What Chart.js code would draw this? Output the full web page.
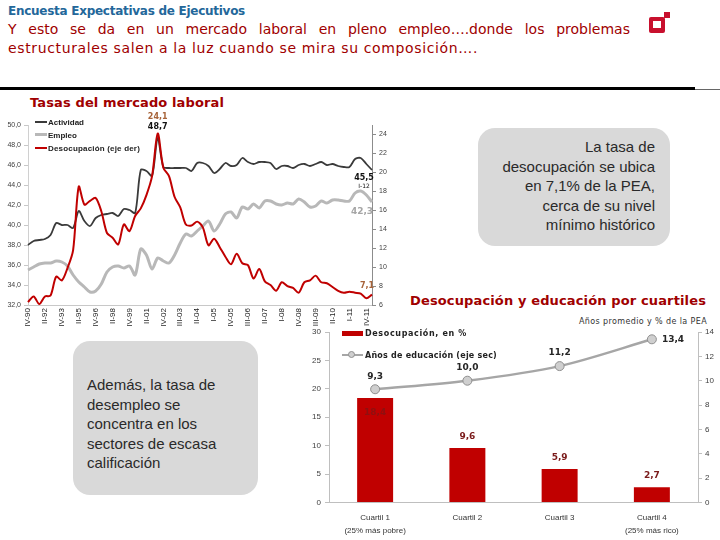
<!DOCTYPE html>
<html lang="es"><head><meta charset="utf-8">
<title>Encuesta Expectativas de Ejecutivos</title>
<script src="https://cdn.jsdelivr.net/npm/chart.js@4.4.1/dist/chart.umd.min.js"></script>
<style>
html,body{margin:0;padding:0;}
body{width:720px;height:540px;position:relative;overflow:hidden;background:#fff;font-family:"Liberation Sans",Arial,sans-serif;}
.t{position:absolute;white-space:nowrap;line-height:1;}
canvas{position:absolute;}
#h0{left:8px;top:4px;font:bold 12px "DejaVu Sans";color:#23679a;}
#h1{left:8px;top:21px;font:14px "DejaVu Sans";color:#a00000;}
#h2{left:8px;top:40px;font:14px "DejaVu Sans";color:#a00000;}
.rule{position:absolute;left:0;top:87px;width:695px;height:3px;background:#000;}
.rule2{position:absolute;left:695px;top:89px;width:25px;height:1px;background:#666;}
.sub1{left:30px;top:95px;font:bold 13px "DejaVu Sans";color:#a00000;}
.sub2{left:410px;top:293px;font:bold 13px "DejaVu Sans";color:#a00000;}
.unit{left:579px;top:317px;font:8px "DejaVu Sans";color:#333;}
.box{position:absolute;background:#d9d9d9;border-radius:17px;}
.box div{font:15px "Liberation Sans",Arial,sans-serif;color:#2a2a2a;line-height:19.5px;white-space:nowrap;}
.lg{font:bold 8px "Liberation Sans",Arial,sans-serif;color:#222;}
.lg2{font:bold 8px "DejaVu Sans";color:#222;}
.sw{position:absolute;}
</style>
</head>
<body>
<div class="t" id="h0" data-w="237">Encuesta Expectativas de Ejecutivos</div>
<div class="t" id="h1" data-w="622" data-mode="space">Y esto se da en un mercado laboral en pleno empleo….donde los problemas</div>
<div class="t" id="h2" data-w="470">estructurales salen a la luz cuando se mira su composición….</div>
<div style="position:absolute;left:649px;top:17px;width:16px;height:16px;background:#c8102e;border-radius:2px"></div>
<div style="position:absolute;left:653px;top:21px;width:8px;height:7px;background:#fff"></div>
<div style="position:absolute;left:664px;top:12px;width:6px;height:6px;background:#c8102e"></div>
<div class="rule"></div><div class="rule2"></div>

<div class="t sub1" data-w="194">Tasas del mercado laboral</div>
<canvas id="c1" width="400" height="230" style="left:0;top:110px"></canvas>

<!-- line chart legend -->
<div class="sw" style="left:35px;top:121px;width:12px;height:2px;background:#3a3a3a"></div>
<div class="t lg" style="left:48px;top:118px">Actividad</div>
<div class="sw" style="left:35px;top:133px;width:12px;height:3px;background:#b8b8b8"></div>
<div class="t lg" style="left:48px;top:131px">Empleo</div>
<div class="sw" style="left:35px;top:147px;width:12px;height:2px;background:#c00000"></div>
<div class="t lg" style="left:48px;top:144px" data-w="92">Desocupación (eje der)</div>

<div class="box" style="left:478px;top:128px;width:192px;height:118px;">
  <div style="position:absolute;right:15px;top:9px;text-align:right">La tasa de<br>desocupación se ubica<br>en 7,1% de la PEA,<br>cerca de su nivel<br>mínimo histórico</div>
</div>

<div class="t sub2" data-w="296">Desocupación y educación por cuartiles</div>
<div class="t unit" data-w="128">Años promedio y % de la PEA</div>

<div class="box" style="left:73px;top:341px;width:185px;height:154px;">
  <div style="position:absolute;left:14px;top:34px">Además, la tasa de<br>desempleo se<br>concentra en los<br>sectores de escasa<br>calificación</div>
</div>

<canvas id="c2" width="420" height="220" style="left:300px;top:320px"></canvas>

<!-- bar chart legend -->
<div class="sw" style="left:342px;top:331px;width:21px;height:5px;background:#c00000"></div>
<div class="t lg2" style="left:365px;top:329px" data-w="102">Desocupación, en %</div>
<div class="sw" style="left:342px;top:354px;width:21px;height:2px;background:#a6a6a6"></div>
<div class="sw" style="left:348px;top:351px;width:7px;height:7px;border-radius:50%;background:#cfcfcf;border:1px solid #8f8f8f;box-sizing:border-box"></div>
<div class="t lg2" style="left:365px;top:351px" data-w="132">Años de educación (eje sec)</div>

<script>
// ---------- DATA ----------
const quarters = ["IV-90","II-91","IV-91","II-92","IV-92","II-93","IV-93","II-94","IV-94","II-95","IV-95","II-96","IV-96","II-97","IV-97","II-98","IV-98","II-99","IV-99","II-00","IV-00","II-01","IV-01","II-02","IV-02","I-03","II-03","III-03","IV-03","I-04","II-04","III-04","IV-04","I-05","II-05","III-05","IV-05","I-06","II-06","III-06","IV-06","I-07","II-07","III-07","IV-07","I-08","II-08","III-08","IV-08","I-09","II-09","III-09","IV-09","I-10","II-10","III-10","IV-10","I-11","II-11","III-11","IV-11","I-12"];
const actividad = [38.0,38.4,38.5,38.6,39.0,40.2,40.0,40.0,39.7,41.4,40.4,39.9,40.7,41.0,41.1,41.2,40.9,41.6,41.5,41.2,45.5,45.4,44.9,48.7,45.8,45.7,45.7,
 45.7,45.7,45.4,46.2,46.2,45.9,45.2,45.6,46.2,45.9,46.0,46.7,46.3,46.1,46.3,46.3,46.2,45.6,45.9,45.9,45.7,46.0,46.1,45.9,46.1,46.3,46.0,46.1,45.9,45.8,45.8,46.6,46.7,46.1,45.5];
const empleo = [35.5,35.8,36.1,36.2,36.2,36.4,36.3,35.9,35.0,34.3,33.8,33.3,33.4,34.1,35.3,35.8,35.9,35.7,35.9,35.0,37.6,37.0,35.6,36.7,36.4,36.2,37.0,
 38.2,39.1,38.9,39.4,39.9,40.4,39.4,40.1,41.1,41.3,40.7,41.8,41.6,42.1,41.7,42.4,42.4,42.1,42.0,42.2,42.1,42.6,42.3,41.8,41.9,42.4,42.2,42.5,42.5,42.4,42.4,43.2,43.4,43.0,42.3];
const desocupacion = [6.3,6.9,6.1,6.9,7.0,9.0,8.6,9.9,11.8,18.5,16.6,17.0,17.3,15.9,13.6,13.1,12.4,14.5,13.8,15.4,16.2,17.6,19.6,24.1,20.5,19.6,17.4,
 16.3,14.5,14.4,14.8,14.2,12.3,13.0,12.1,11.1,10.3,11.4,10.4,10.2,8.8,9.8,8.5,8.1,7.5,8.4,8.0,7.8,7.3,8.4,8.6,9.1,8.4,8.3,7.9,7.5,7.3,7.4,7.3,7.2,6.7,7.1];

const cuartiles = [["Cuartil 1","(25% más pobre)"],"Cuartil 2","Cuartil 3",["Cuartil 4","(25% más rico)"]];
const desocupacionCuartil = [18.4, 9.6, 5.9, 2.7];
const educacionCuartil = [9.3, 10.0, 11.2, 13.4];

// ---------- text fitting ----------
document.querySelectorAll('[data-w]').forEach(el=>{
  const target = +el.dataset.w;
  const w = el.getBoundingClientRect().width;
  const txt = el.textContent;
  if (el.dataset.mode === 'space') {
    const n = (txt.match(/ /g)||[]).length;
    el.style.wordSpacing = ((target - w)/n) + 'px';
  } else {
    el.style.letterSpacing = ((target - w)/txt.length) + 'px';
  }
});

const fmt = v => v.toFixed(1).replace('.', ',');
const FAM = '"Liberation Sans", Arial, sans-serif';

// ---------- line chart ----------
const lineLabels = {
  id: 'lineLabels',
  afterDatasetsDraw(chart) {
    const ctx = chart.ctx;
    const A = chart.getDatasetMeta(0).data, E = chart.getDatasetMeta(1).data, D = chart.getDatasetMeta(2).data;
    const iPeak = desocupacion.indexOf(Math.max(...desocupacion));
    const iLast = quarters.length - 1;
    ctx.save();
    ctx.textAlign = 'center'; ctx.textBaseline = 'middle';
    ctx.font = 'bold 8px "DejaVu Sans"';
    ctx.fillStyle = '#a8643a';
    ctx.fillText(fmt(desocupacion[iPeak]), D[iPeak].x, D[iPeak].y - 17);
    ctx.fillStyle = '#111';
    ctx.fillText(fmt(actividad[iPeak]), D[iPeak].x, D[iPeak].y - 7);
    ctx.fillText(fmt(actividad[iLast]), A[iLast].x - 8, A[iLast].y + 8);
    ctx.font = '6px "DejaVu Sans"';
    ctx.fillText(quarters[iLast], A[iLast].x - 8, A[iLast].y + 16);
    ctx.font = 'bold 9px "DejaVu Sans"';
    ctx.fillStyle = '#a6a6a6';
    ctx.fillText(fmt(empleo[iLast]), E[iLast].x - 10, E[iLast].y + 10);
    ctx.font = 'bold 8px "DejaVu Sans"';
    ctx.fillStyle = '#a8643a';
    ctx.fillText(fmt(desocupacion[iLast]), D[iLast].x - 5, D[iLast].y - 9);
    ctx.restore();
  }
};

new Chart(document.getElementById('c1'), {
  type: 'line',
  data: {
    labels: quarters,
    datasets: [
      {label:'Actividad', data:actividad, yAxisID:'y', borderColor:'#3a3a3a', borderWidth:1.8, order:2},
      {label:'Empleo', data:empleo, yAxisID:'y', borderColor:'#b8b8b8', borderWidth:3, order:3},
      {label:'Desocupación (eje der)', data:desocupacion, yAxisID:'y2', borderColor:'#c00000', borderWidth:2, order:1}
    ]
  },
  options: {
    responsive:false, animation:false, devicePixelRatio:1,
    layout:{padding:{top:15,left:0,right:0,bottom:0}},
    elements:{point:{radius:0}, line:{tension:0.3}},
    plugins:{legend:{display:false}, tooltip:{enabled:false}},
    scales:{
      x:{type:'category', offset:false,
         grid:{display:false, drawTicks:false}, border:{display:true, color:'#c8c8c8'},
         ticks:{autoSkip:false, maxRotation:90, minRotation:90, padding:3, color:'#222',
                font:{size:8, family:FAM},
                callback:(v,i)=> i%3===0 ? quarters[i] : ''},
         afterFit:s=>{s.height=35;}},
      y:{position:'left', min:32, max:50,
         ticks:{stepSize:2, padding:3, color:'#404040', font:{size:7, family:FAM}, callback:v=>fmt(v)},
         grid:{drawOnChartArea:false, tickLength:4, color:'#c8c8c8'}, border:{color:'#d0d0d0'},
         afterFit:s=>{s.width=28;}},
      y2:{position:'right', min:6, max:25,
         ticks:{stepSize:2, includeBounds:false, padding:3, color:'#404040', font:{size:7, family:FAM}},
         grid:{drawOnChartArea:false, tickLength:4, color:'#8c8c8c'}, border:{color:'#8c8c8c'},
         afterFit:s=>{s.width=28;}}
    }
  },
  plugins:[lineLabels]
});

// ---------- bar chart ----------
const barLabels = {
  id:'barLabels',
  afterDatasetsDraw(chart){
    const ctx = chart.ctx;
    const L = chart.getDatasetMeta(0).data, B = chart.getDatasetMeta(1).data;
    ctx.save();
    ctx.textBaseline = 'middle';
    ctx.font = 'bold 9px "DejaVu Sans"';
    desocupacionCuartil.forEach((v,i)=>{
      ctx.textAlign = 'center';
      ctx.fillStyle = i===0 ? '#8e1010' : '#7a1a1a';
      ctx.fillText(fmt(v), B[i].x, i===0 ? B[i].y + 15 : B[i].y - 11);
    });
    ctx.fillStyle = '#262626';
    educacionCuartil.forEach((v,i)=>{
      if (i === educacionCuartil.length-1) { ctx.textAlign='left'; ctx.fillText(fmt(v), L[i].x + 10, L[i].y); }
      else { ctx.textAlign='center'; ctx.fillText(fmt(v), L[i].x, L[i].y - 13); }
    });
    ctx.restore();
  }
};

new Chart(document.getElementById('c2'), {
  type:'bar',
  data:{
    labels:cuartiles,
    datasets:[
      {type:'line', label:'Años de educación (eje sec)', data:educacionCuartil, yAxisID:'y2',
       borderColor:'#a6a6a6', borderWidth:2.5, tension:0.3,
       pointRadius:4.5, pointBackgroundColor:'#cfcfcf', pointBorderColor:'#8f8f8f', pointBorderWidth:1, order:1},
      {type:'bar', label:'Desocupación, en %', data:desocupacionCuartil, yAxisID:'y',
       backgroundColor:'#c00000', categoryPercentage:1, barPercentage:0.39, order:2}
    ]
  },
  options:{
    responsive:false, animation:false, devicePixelRatio:1,
    layout:{padding:{top:12,left:0,right:0,bottom:0}},
    plugins:{legend:{display:false}, tooltip:{enabled:false}},
    scales:{
      x:{grid:{display:false, drawTicks:false}, border:{display:true, color:'#bfbfbf'},
         ticks:{padding:9, color:'#333', font:{size:8, family:FAM, lineHeight:1.6}},
         afterFit:s=>{s.height=37.5;}},
      y:{position:'left', min:0, max:30,
         ticks:{stepSize:5, padding:4, color:'#404040', font:{size:8, family:FAM}},
         grid:{drawOnChartArea:false, tickLength:4, color:'#bfbfbf'}, border:{color:'#bfbfbf'},
         afterFit:s=>{s.width=29;}},
      y2:{position:'right', min:0, max:14,
         ticks:{stepSize:2, padding:3, color:'#404040', font:{size:8, family:FAM}},
         grid:{drawOnChartArea:false, tickLength:4, color:'#bfbfbf'}, border:{color:'#bfbfbf'},
         afterFit:s=>{s.width=22;}}
    }
  },
  plugins:[barLabels]
});
</script>
</body></html>
